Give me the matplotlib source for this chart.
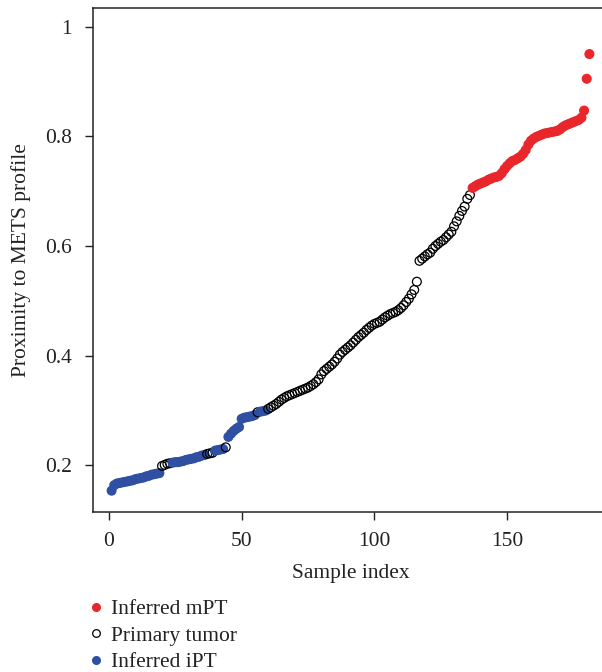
import matplotlib
matplotlib.use("Agg")
import matplotlib.pyplot as plt
from matplotlib.lines import Line2D

# Proximity values (sorted), sample index 1..181
proximity = [
    0.154, 0.164, 0.167, 0.168, 0.169, 0.170, 0.171, 0.172, 0.173, 0.175,
    0.176, 0.177, 0.178, 0.180, 0.181, 0.183, 0.184, 0.185, 0.186,
    0.199, 0.201, 0.203, 0.204,
    0.205, 0.206, 0.206, 0.207, 0.208, 0.210, 0.211, 0.212, 0.213, 0.215,
    0.216, 0.218, 0.219,
    0.221, 0.222, 0.223,
    0.227, 0.228, 0.229, 0.230,
    0.233,
    0.252, 0.258, 0.263, 0.267, 0.270, 0.285, 0.287, 0.288, 0.289, 0.290, 0.292,
    0.297,
    0.298, 0.299, 0.300,
    0.303, 0.306, 0.309, 0.312, 0.316, 0.320, 0.323, 0.326, 0.328, 0.330,
    0.332, 0.334, 0.336, 0.338, 0.340, 0.342, 0.345, 0.348, 0.352, 0.357,
    0.366, 0.372, 0.376, 0.380, 0.384, 0.389, 0.395, 0.402, 0.407, 0.411,
    0.415, 0.419, 0.424, 0.429, 0.434, 0.438, 0.442, 0.447, 0.451, 0.455,
    0.458, 0.460, 0.462, 0.466, 0.470, 0.473, 0.476, 0.478, 0.480, 0.483,
    0.487, 0.492, 0.498, 0.504, 0.512, 0.520, 0.535, 0.573, 0.577, 0.581,
    0.585, 0.588, 0.595, 0.600, 0.604, 0.608, 0.611, 0.616, 0.621, 0.626,
    0.636, 0.645, 0.655, 0.664, 0.672, 0.686, 0.693,
    0.706, 0.709, 0.712, 0.714, 0.716, 0.718, 0.721, 0.723, 0.725, 0.726,
    0.728, 0.733, 0.740, 0.746, 0.751, 0.755, 0.757, 0.760, 0.763, 0.768,
    0.775, 0.785, 0.792, 0.796, 0.799, 0.801, 0.803, 0.805, 0.806, 0.807,
    0.808, 0.809, 0.810, 0.813, 0.817, 0.820, 0.822, 0.824, 0.826, 0.828,
    0.830, 0.834, 0.847, 0.905, 0.950,
]

# group runs in index order: (group, count)
group_runs = [("iPT", 19), ("PT", 4), ("iPT", 13), ("PT", 3), ("iPT", 4),
              ("PT", 1), ("iPT", 11), ("PT", 1), ("iPT", 3), ("PT", 77),
              ("mPT", 45)]

legend_labels = ["Inferred mPT", "Primary tumor", "Inferred iPT"]
xticks = [0, 50, 100, 150]
yticks = [0.2, 0.4, 0.6, 0.8, 1.0]
ytick_labels = ["0.2", "0.4", "0.6", "0.8", "1"]

RED = "#E8262B"
BLUE = "#2F4FA2"
TXT = "#222222"

groups = []
for g, n in group_runs:
    groups += [g] * n
idx = list(range(1, len(proximity) + 1))

face = []
edge = []
for g in groups:
    if g == "PT":
        face.append((1, 1, 1, 0))
        edge.append("black")
    elif g == "mPT":
        face.append(RED)
        edge.append(RED)
    else:
        face.append(BLUE)
        edge.append(BLUE)

plt.rcParams["font.family"] = ["Liberation Serif", "DejaVu Serif"]
fs = 15.5

fig = plt.figure(figsize=(6.02, 6.72), dpi=100)
ax = fig.add_axes([92.5 / 602, (672 - 511.5) / 672, (608.5 - 92.5) / 602, (511.5 - 8) / 672])

ax.scatter(idx, proximity, s=40, c=face, edgecolors=edge, linewidths=0.9, zorder=3)

n = len(proximity)
rng = n - 1
ax.set_xlim(1 - 0.04 * rng, n + 0.04 * rng)
ax.set_ylim(0.15 - 0.04 * 0.85, 1.0 + 0.04 * 0.85)

ax.set_xticks(xticks)
ax.set_xticklabels([str(t) for t in xticks])
ax.set_yticks(yticks)
ax.set_yticklabels(ytick_labels)
ax.tick_params(axis="both", direction="out", length=6, width=1.0, colors=TXT,
               labelsize=fs, pad=9)
for sp in ax.spines.values():
    sp.set_linewidth(1.1)
    sp.set_color(TXT)

ax.set_xlabel("Sample index", fontsize=fs, color=TXT, labelpad=9)
ax.set_ylabel("Proximity to METS profile", fontsize=fs, color=TXT, labelpad=10)

handles = [
    Line2D([], [], linestyle="none", marker="o", markersize=5.5, markerfacecolor=RED, markeredgecolor=RED),
    Line2D([], [], linestyle="none", marker="o", markersize=5.5, markerfacecolor="none", markeredgecolor="black", markeredgewidth=0.9),
    Line2D([], [], linestyle="none", marker="o", markersize=5.5, markerfacecolor=BLUE, markeredgecolor=BLUE),
]
fig.legend(handles, legend_labels, loc="upper left", bbox_to_anchor=(91 / 602, 1 - 599 / 672),
           frameon=False, fontsize=fs, handlelength=0.5, handletextpad=0.45,
           labelspacing=0.30, borderaxespad=0, borderpad=0, labelcolor=TXT)

fig.savefig("out.png", dpi=100)
